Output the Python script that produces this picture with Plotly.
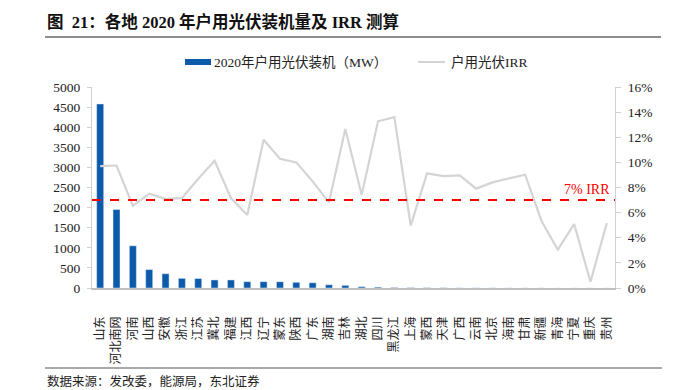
import plotly.graph_objects as go

# ---------------- data ----------------
regions = ["山东", "河北南网", "河南", "山西", "安徽", "浙江", "江苏", "冀北", "福建", "江西",
           "辽宁", "蒙东", "陕西", "广东", "湖南", "吉林", "湖北", "四川", "黑龙江", "上海",
           "蒙西", "天津", "广西", "云南", "北京", "海南", "甘肃", "新疆", "青海", "宁夏",
           "重庆", "贵州"]
installed_mw = [4578, 1952, 1050, 458, 355, 240, 235, 200, 200, 157,
                157, 155, 141, 130, 80, 65, 32, 22, 14, 9,
                7, 5, 3, 2, 2, 1.5, 1, 1, 0.5, 0.5,
                0.3, 0.3]
irr_pct = [9.7, 9.75, 6.55, 7.5, 7.1, 7.15, 8.7, 10.13, 7.16, 5.81,
           11.8, 10.29, 10.0, 8.49, 6.82, 12.66, 7.43, 13.27, 13.6, 4.96,
           9.13, 8.91, 8.97, 7.91, 8.41, 8.73, 9.02, 5.36, 3.05, 5.09,
           0.5, 5.17]
irr_threshold = 7
left_ticks = list(range(0, 5001, 500))
right_ticks = list(range(0, 17, 2))
right_tick_labels = ["0%", "2%", "4%", "6%", "8%", "10%", "12%", "14%", "16%"]

title_text = "<b>图  21：各地 2020 年户用光伏装机量及 IRR 测算</b>"
legend_bar = "2020年户用光伏装机（MW）"
legend_line = "户用光伏IRR"
source_text = "数据来源：发改委，能源局，东北证券"
threshold_label = "7% IRR"

# ---------------- style ----------------
BLUE = "#0B5BAA"
GRAY_LINE = "#D4D4D4"
AXIS = "#D0D0D0"
SERIF = "Liberation Serif, Noto Sans CJK SC, serif"
CJK = "Noto Sans CJK SC, sans-serif"

# plot area in pixels: x 92..615, y 87..288
L, R, T, B = 92, 615, 87, 288
W, H = 680, 390
def px(x):
    return (x - L) / (R - L)
def py(y):
    return (B - y) / (B - T)

fig = go.Figure()
fig.add_trace(go.Bar(x=regions, y=installed_mw, marker_color=BLUE, width=0.43,
                     name=legend_bar, showlegend=False))
fig.add_trace(go.Scatter(x=regions, y=irr_pct, yaxis="y2", mode="lines",
                         line=dict(color=GRAY_LINE, width=2.2), name=legend_line,
                         showlegend=False))

shapes = [
    dict(type="line", xref="paper", yref="y2", x0=0, x1=1, y0=irr_threshold, y1=irr_threshold,
         line=dict(color="#FF0000", width=2, dash="dash"), layer="above"),
    dict(type="line", xref="paper", yref="paper", x0=px(45), x1=px(661), y0=py(37), y1=py(37),
         line=dict(color="#8C8C8C", width=2)),
    dict(type="line", xref="paper", yref="paper", x0=px(45), x1=px(662), y0=py(368), y1=py(368),
         line=dict(color="#8C8C8C", width=1.5)),
    dict(type="rect", xref="paper", yref="paper", x0=px(185), x1=px(211), y0=py(65), y1=py(59),
         fillcolor=BLUE, line=dict(width=0)),
    dict(type="line", xref="paper", yref="paper", x0=px(418), x1=px(445), y0=py(62), y1=py(62),
         line=dict(color=GRAY_LINE, width=2)),
]

annotations = [
    dict(text=title_text, xref="paper", yref="paper", x=px(45), y=py(22), xanchor="left",
         yanchor="middle", showarrow=False, font=dict(family=SERIF, size=16.5, color="#111")),
    dict(text=source_text, xref="paper", yref="paper", x=px(45), y=py(380), xanchor="left",
         yanchor="middle", showarrow=False, font=dict(family=CJK, size=12.5, color="#222")),
    dict(text=legend_bar, xref="paper", yref="paper", x=px(212), y=py(62), xanchor="left",
         yanchor="middle", showarrow=False, font=dict(family=SERIF, size=13.5, color="#222")),
    dict(text=legend_line, xref="paper", yref="paper", x=px(449), y=py(62), xanchor="left",
         yanchor="middle", showarrow=False, font=dict(family=SERIF, size=13.5, color="#222")),
    dict(text=threshold_label, xref="paper", yref="y2", x=px(612), y=irr_threshold,
         xanchor="right", yanchor="bottom", yshift=1, showarrow=False,
         font=dict(family=SERIF, size=14, color="#FF0000")),
]

fig.update_layout(
    width=W, height=H, autosize=False,
    margin=dict(l=L, r=W - R, t=T, b=H - B, pad=0),
    paper_bgcolor="white", plot_bgcolor="white",
    showlegend=False, bargap=0.57,
    shapes=shapes, annotations=annotations,
    xaxis=dict(type="category", range=[-0.5, len(regions) - 0.5], showline=True,
               linecolor="#BFBFBF", linewidth=1.5, ticks="", showgrid=False,
               tickangle=-90, tickfont=dict(family=CJK, size=12, color="#222"),
               ticklabelstandoff=22),
    yaxis=dict(range=[0, 5000], tickvals=left_ticks, showline=True, linecolor=AXIS,
               ticks="outside", ticklen=4, tickcolor=AXIS, showgrid=False, zeroline=False,
               tickfont=dict(family=SERIF, size=13.5, color="#222"), ticklabelstandoff=4),
    yaxis2=dict(range=[0, 16], tickvals=right_ticks, ticktext=right_tick_labels,
                overlaying="y", side="right", showline=True, linecolor=AXIS,
                ticks="outside", ticklen=5, tickcolor=AXIS, showgrid=False, zeroline=False,
                tickfont=dict(family=SERIF, size=13.5, color="#222"), ticklabelstandoff=4),
)

fig.write_html("out.html", config={"displayModeBar": False},
               post_script="document.body.style.margin='0';document.body.style.padding='0';")
